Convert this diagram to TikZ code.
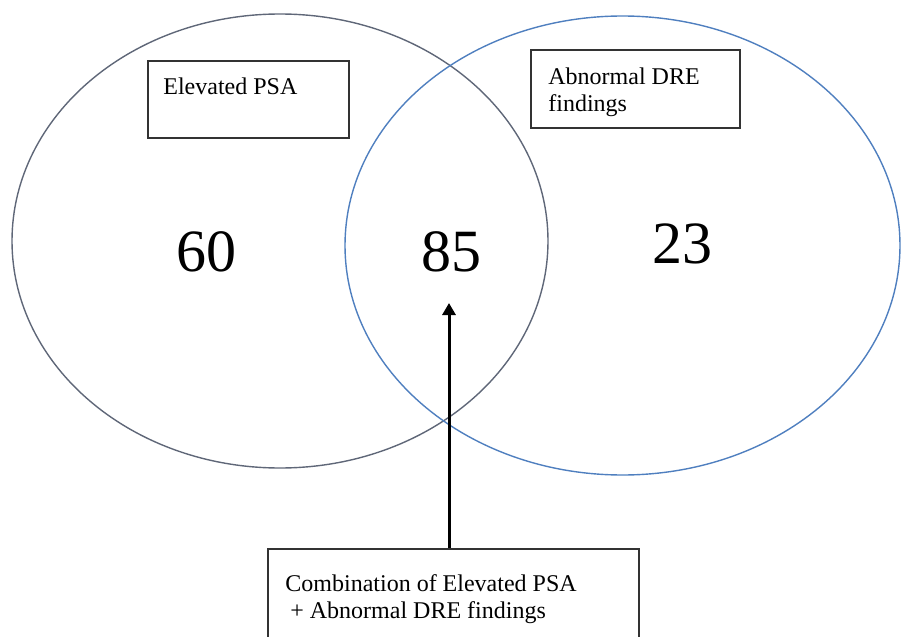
\documentclass[tikz,border=0pt]{standalone}
\usepackage{fontspec}
\setmainfont{Liberation Serif}
\usetikzlibrary{arrows.meta}
\definecolor{setgray}{HTML}{5F6778}
\definecolor{setblue}{HTML}{4F7FBF}
\tikzset{
  setline/.style={line width=0.7pt},
  labelbox/.style={draw=black!80, line width=0.75pt, inner sep=0pt, anchor=north west},
  boxtext/.style={font=\fontsize{12}{13.5}\selectfont, inner sep=0pt, anchor=north west, align=left},
  count/.style={font=\fontsize{30}{30}\selectfont, inner sep=0pt}
}
\begin{document}
\begin{tikzpicture}[x=0.5pt,y=-0.5pt]
\useasboundingbox (0,0) rectangle (901,637);
% 两个集合
\draw[setline, setgray] (280,241) ellipse [x radius=134pt, y radius=113.5pt];
\draw[setline, setblue] (622.5,245.5) ellipse [x radius=138.75pt, y radius=114.75pt];
% 标签框
\node[labelbox, minimum width=100.5pt, minimum height=38.5pt] (psabox) at (147,60) {};
\node[boxtext] (psatext) at (163,77) {Elevated PSA};
\node[labelbox, minimum width=104.5pt, minimum height=39pt] (drebox) at (530,49) {};
\node[boxtext] (dretext) at (548,67) {Abnormal DRE\\findings};
% 人数
\node[count] (only60) at (206,252) {60};
\node[count] (both85) at (451,252) {85};
\node[count] (only23) at (682,244) {23};
% 组合
\node[labelbox, minimum width=185.5pt, minimum height=60pt] (combobox) at (267,548) {};
\node[boxtext] (combotext) at (285,574) {Combination of Elevated PSA\\\hspace{2.5pt}+ Abnormal DRE findings};
\coordinate (tip) at (449,303);
\draw[line width=1.5pt, -{Triangle[width=6.5pt,length=6pt]}] (combobox.north -| tip) -- (tip);
\end{tikzpicture}
\end{document}
